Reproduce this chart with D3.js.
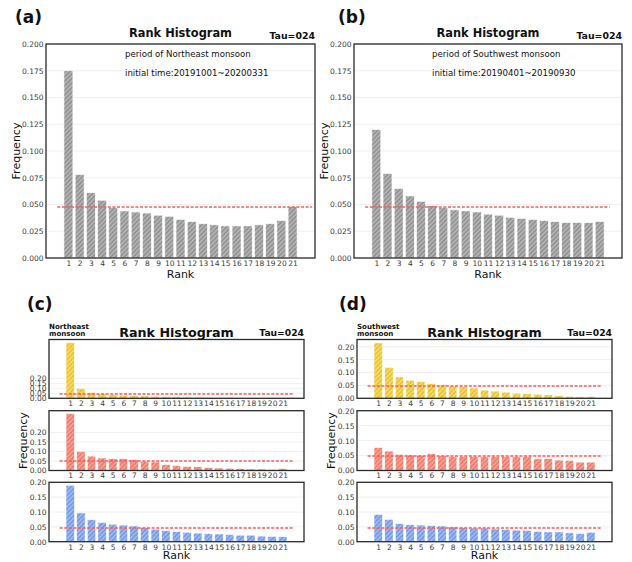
<!DOCTYPE html>
<html>
<head>
<meta charset="utf-8">
<script src="https://cdn.jsdelivr.net/npm/d3@7"></script>
<style>
  body { margin: 0; background: #fff; }
  text { font-family: "DejaVu Sans", sans-serif; }
</style>
</head>
<body>
<div id="chart"></div>
<script>
// ranks 1..21 (categories on the x axis)
const ranks = [1, 2, 3, 4, 5, 6, 7, 8, 9, 10, 11, 12, 13, 14, 15, 16, 17, 18, 19, 20, 21];

// (a) Northeast monsoon, (b) Southwest monsoon
const freqA = [0.175, 0.078, 0.061, 0.054, 0.047, 0.044, 0.043, 0.042, 0.040, 0.039, 0.036,
               0.034, 0.032, 0.031, 0.030, 0.030, 0.030, 0.031, 0.032, 0.035, 0.048];
const freqB = [0.120, 0.079, 0.065, 0.058, 0.053, 0.049, 0.047, 0.045, 0.044, 0.043, 0.041,
               0.040, 0.038, 0.037, 0.036, 0.035, 0.034, 0.033, 0.033, 0.033, 0.034];

// (c) Northeast monsoon, three rows
const freqC1 = [0.560, 0.100, 0.060, 0.044, 0.036, 0.030, 0.027, 0.024, 0.021, 0.018, 0.016,
                0.013, 0.011, 0.009, 0.008, 0.007, 0.006, 0.005, 0.005, 0.004, 0.004];
const freqC2 = [0.300, 0.101, 0.076, 0.066, 0.062, 0.062, 0.058, 0.049, 0.045, 0.031, 0.026,
                0.022, 0.020, 0.016, 0.013, 0.012, 0.010, 0.008, 0.008, 0.006, 0.010];
const freqC3 = [0.190, 0.097, 0.074, 0.065, 0.059, 0.056, 0.053, 0.048, 0.042, 0.037, 0.034,
                0.032, 0.029, 0.027, 0.026, 0.024, 0.022, 0.022, 0.019, 0.018, 0.017];

// (d) Southwest monsoon, three rows
const freqD1 = [0.215, 0.120, 0.083, 0.070, 0.065, 0.057, 0.052, 0.048, 0.046, 0.040, 0.032,
                0.028, 0.024, 0.020, 0.018, 0.016, 0.014, 0.011, 0.008, 0.006, 0.007];
const freqD2 = [0.077, 0.065, 0.054, 0.052, 0.051, 0.056, 0.049, 0.047, 0.047, 0.047, 0.047,
                0.047, 0.047, 0.047, 0.047, 0.039, 0.040, 0.035, 0.034, 0.028, 0.028];
const freqD3 = [0.092, 0.075, 0.061, 0.057, 0.056, 0.054, 0.053, 0.050, 0.048, 0.046, 0.046,
                0.043, 0.041, 0.039, 0.038, 0.035, 0.033, 0.033, 0.030, 0.028, 0.032];

// y tick labels
const ticksBig = [0, 0.025, 0.05, 0.075, 0.1, 0.125, 0.15, 0.175, 0.2];
const ticksSmall = [0, 0.05, 0.1, 0.15, 0.2];

// expected uniform frequency 1/21
const expected = 1 / 21;

const W = 632, H = 562;
const svg = d3.select("#chart").append("svg")
    .attr("width", W).attr("height", H)
    .style("background", "#fff");

const defs = svg.append("defs");

// hatch patterns "////"
function hatch(id, base, line) {
    const p = defs.append("pattern")
        .attr("id", id)
        .attr("patternUnits", "userSpaceOnUse")
        .attr("width", 3.2).attr("height", 3.2)
        .attr("patternTransform", "rotate(45)");
    p.append("rect").attr("width", 3.2).attr("height", 3.2).attr("fill", base);
    p.append("line").attr("x1", 0.8).attr("y1", 0).attr("x2", 0.8).attr("y2", 3.2)
        .attr("stroke", line).attr("stroke-width", 0.9);
}
hatch("h-grey", "#b3b3b3", "#7a7a7a");
hatch("h-yellow", "#f9dc5c", "#d6ae2a");
hatch("h-red", "#f7a092", "#e06656");
hatch("h-blue", "#9dbaf0", "#5a81d6");

function drawPanel(o) {
    const x = d3.scaleLinear().domain([-1, 23]).range([o.left, o.right]);
    const y = d3.scaleLinear().domain([0, o.ymax]).range([o.bottom, o.top]);
    const g = svg.append("g");

    // grid lines
    g.selectAll(".grid")
        .data(o.ticks.filter(t => t > 0))
        .enter().append("line")
        .attr("x1", o.left).attr("x2", o.right)
        .attr("y1", d => y(d)).attr("y2", d => y(d))
        .attr("stroke", "#ececec").attr("stroke-width", 0.8);

    // bars
    const bw = x(0.8) - x(0);
    g.selectAll(".bar")
        .data(o.data)
        .enter().append("rect")
        .attr("x", (d, i) => x(ranks[i]) - bw / 2)
        .attr("y", d => y(d))
        .attr("width", bw)
        .attr("height", d => o.bottom - y(d))
        .attr("fill", "url(#" + o.pattern + ")")
        .attr("stroke", "#fff").attr("stroke-width", 0.6);

    // dashed expected line, 2 px wide so it keeps its red colour
    const ly = Math.round(y(expected));
    g.append("line")
        .attr("x1", x(0)).attr("x2", x(o.lineEnd))
        .attr("y1", ly).attr("y2", ly)
        .attr("stroke", "#ff5a5a").attr("stroke-width", 1.6)
        .attr("stroke-dasharray", "3,1.6");

    // y axis
    const ya = g.append("g")
        .attr("transform", "translate(" + o.left + ",0)")
        .call(d3.axisLeft(y).tickValues(o.ticks).tickSize(0).tickPadding(2.5)
            .tickFormat(d3.format(o.fmt)));
    ya.select(".domain").remove();
    ya.selectAll("text").attr("fill", "#3a3a3a").style("font-size", "7.5px");

    // x axis
    const xa = g.append("g")
        .attr("transform", "translate(0," + o.bottom + ")")
        .call(d3.axisBottom(x).tickValues(ranks).tickSize(0).tickPadding(2.5)
            .tickFormat(d3.format("d")));
    xa.select(".domain").remove();
    xa.selectAll("text").attr("fill", "#3a3a3a").style("font-size", "7.5px");

    // frame
    g.append("rect")
        .attr("x", o.left).attr("y", o.top)
        .attr("width", o.right - o.left).attr("height", o.bottom - o.top)
        .attr("fill", "none").attr("stroke", "#2a2a2a").attr("stroke-width", 1.3);
}

function label(x, y, txt, size, weight, anchor, rot) {
    const t = svg.append("text")
        .attr("x", x).attr("y", y)
        .attr("font-size", size)
        .attr("font-weight", weight || "normal")
        .attr("text-anchor", anchor || "start")
        .attr("fill", "#111")
        .text(txt);
    if (rot) t.attr("transform", "rotate(" + rot + "," + x + "," + y + ")");
    return t;
}

// ---- (a) and (b)
const top2 = [
    { left: 46, right: 315, data: freqA, lineEnd: 22.75, tag: "(a)", tagX: 15,
      p1: "period of Northeast monsoon", p2: "initial time:20191001~20200331", textX: 125 },
    { left: 354, right: 622, data: freqB, lineEnd: 21.9, tag: "(b)", tagX: 338,
      p1: "period of Southwest monsoon", p2: "initial time:20190401~20190930", textX: 432 }
];
top2.forEach(p => {
    drawPanel({ left: p.left, right: p.right, top: 44, bottom: 258, ymax: 0.2,
                data: p.data, ticks: ticksBig, fmt: ".3f", pattern: "h-grey", lineEnd: p.lineEnd });
    label(p.tagX, 23, p.tag, 17, "bold");
    label((p.left + p.right) / 2, 37, "Rank Histogram", 11.4, "bold", "middle");
    label(p.right, 38.5, "Tau=024", 9.4, "bold", "end");
    label(p.textX, 57, p.p1, 8.6);
    label(p.textX, 76, p.p2, 8.6);
    label((p.left + p.right) / 2, 278, "Rank", 11, "normal", "middle");
    label(p.left - 26.5, (44 + 258) / 2, "Frequency", 11, "normal", "middle", -90);
});

// ---- (c) and (d)
const rows = [
    { top: 339.5, bottom: 398.3, pattern: "h-yellow" },
    { top: 410.7, bottom: 470.5, pattern: "h-red" },
    { top: 482.3, bottom: 541.7, pattern: "h-blue" }
];
const bottom2 = [
    { left: 49, right: 304, series: [freqC1, freqC2, freqC3], ymax: [0.59, 0.315, 0.2],
      tag: "(c)", tagX: 27, season: ["Northeast", "monsoon"] },
    { left: 357, right: 612, series: [freqD1, freqD2, freqD3], ymax: [0.228, 0.2, 0.2],
      tag: "(d)", tagX: 339, season: ["Southwest", "monsoon"] }
];
bottom2.forEach(p => {
    rows.forEach((r, k) => {
        drawPanel({ left: p.left, right: p.right, top: r.top, bottom: r.bottom, ymax: p.ymax[k],
                    data: p.series[k], ticks: ticksSmall, fmt: ".2f", pattern: r.pattern, lineEnd: 21.95 });
    });
    label(p.tagX, 310, p.tag, 17, "bold");
    label((p.left + p.right) / 2, 336.5, "Rank Histogram", 12.7, "bold", "middle");
    label(p.right, 336, "Tau=024", 9.2, "bold", "end");
    label(p.left, 328.5, p.season[0], 7.1, "bold");
    label(p.left, 336.3, p.season[1], 7.1, "bold");
    label((p.left + p.right) / 2, 559, "Rank", 11, "normal", "middle");
    label(p.left - 22, (rows[1].top + rows[1].bottom) / 2, "Frequency", 11, "normal", "middle", -90);
});
</script>
</body>
</html>
